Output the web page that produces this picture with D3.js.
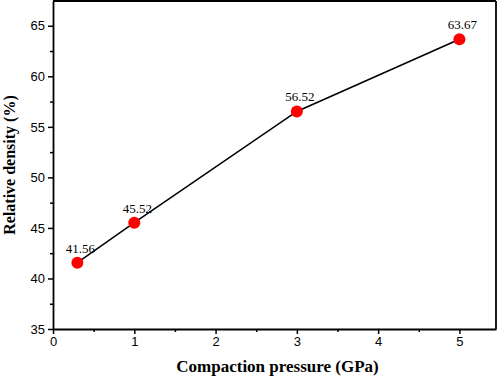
<!DOCTYPE html>
<html>
<head>
<meta charset="utf-8">
<script src="https://cdn.jsdelivr.net/npm/d3@7"></script>
<style>
  body { margin: 0; background: #fff; }
  .tick text { font-family: "Liberation Sans", Arial, sans-serif; font-size: 13px; }
</style>
</head>
<body>
<svg width="500" height="381"></svg>
<script>
var pressure = [0.3, 1, 3, 5];
var density = [41.56, 45.52, 56.52, 63.67];
var xTicks = [0, 1, 2, 3, 4, 5];
var yTicks = [35, 40, 45, 50, 55, 60, 65];

var svg = d3.select('svg');
var margin = { left: 53, top: 1, right: 4, bottom: 52 };
var w = 500 - margin.left - margin.right;
var h = 381 - margin.top - margin.bottom;

var x = d3.scaleLinear().domain([0, 5.45]).range([0, w]);
var y = d3.scaleLinear().domain([35, 67.45]).range([h, 0]);

var g = svg.append('g').attr('transform', 'translate(' + margin.left + ',' + margin.top + ')');

// minor ticks
g.append('g')
  .attr('transform', 'translate(0,' + h + ')')
  .call(d3.axisBottom(x).tickValues([0.5, 1.5, 2.5, 3.5, 4.5]).tickSize(3).tickFormat(''))
  .call(a => a.select('.domain').remove())
  .selectAll('line').attr('stroke-width', 1.5);
g.append('g')
  .call(d3.axisLeft(y).tickValues([37.5, 42.5, 47.5, 52.5, 57.5, 62.5]).tickSize(3).tickFormat(''))
  .call(a => a.select('.domain').remove())
  .selectAll('line').attr('stroke-width', 1.5);

// major axes
var xa = g.append('g')
  .attr('transform', 'translate(0,' + h + ')')
  .call(d3.axisBottom(x).tickValues(xTicks).tickFormat(d3.format('d')).tickSize(5).tickPadding(3).tickSizeOuter(0));
var ya = g.append('g')
  .call(d3.axisLeft(y).tickValues(yTicks).tickFormat(d3.format('d')).tickSize(5).tickPadding(3).tickSizeOuter(0));
[xa, ya].forEach(function (a) {
  a.selectAll('line').attr('stroke-width', 1.5);
  a.select('.domain').attr('stroke-width', 1.8);
  a.selectAll('text').attr('fill', '#000');
});

// frame top and right
g.append('line').attr('x1', 0).attr('x2', w).attr('y1', 0).attr('y2', 0)
  .attr('stroke', '#000').attr('stroke-width', 1.8);
g.append('line').attr('x1', w).attr('x2', w).attr('y1', 0).attr('y2', h)
  .attr('stroke', '#000').attr('stroke-width', 1.8);

var line = d3.line()
  .x(function (d, i) { return x(pressure[i]); })
  .y(function (d) { return y(d); });

g.append('path')
  .datum(density)
  .attr('d', line)
  .attr('fill', 'none')
  .attr('stroke', '#000')
  .attr('stroke-width', 1.5);

g.selectAll('circle')
  .data(density)
  .enter()
  .append('circle')
  .attr('cx', function (d, i) { return x(pressure[i]); })
  .attr('cy', function (d) { return y(d); })
  .attr('r', 6)
  .attr('fill', '#ff0000');

g.selectAll('.lbl')
  .data(density)
  .enter()
  .append('text')
  .attr('class', 'lbl')
  .attr('x', function (d, i) { return x(pressure[i]) + 3; })
  .attr('y', function (d) { return y(d) - 10; })
  .attr('text-anchor', 'middle')
  .attr('font-family', '"Liberation Serif", "Times New Roman", serif')
  .attr('font-size', 13)
  .attr('fill', '#000')
  .text(function (d) { return d.toFixed(2); });

svg.append('text')
  .attr('x', margin.left + w / 2 + 3)
  .attr('y', 372)
  .attr('text-anchor', 'middle')
  .attr('font-family', '"Liberation Serif", "Times New Roman", serif')
  .attr('font-weight', 'bold')
  .attr('font-size', 17)
  .text('Compaction pressure (GPa)');

svg.append('text')
  .attr('transform', 'translate(15,' + (margin.top + h / 2) + ') rotate(-90)')
  .attr('text-anchor', 'middle')
  .attr('font-family', '"Liberation Serif", "Times New Roman", serif')
  .attr('font-weight', 'bold')
  .attr('font-size', 16)
  .text('Relative density (%)');
</script>
</body>
</html>
